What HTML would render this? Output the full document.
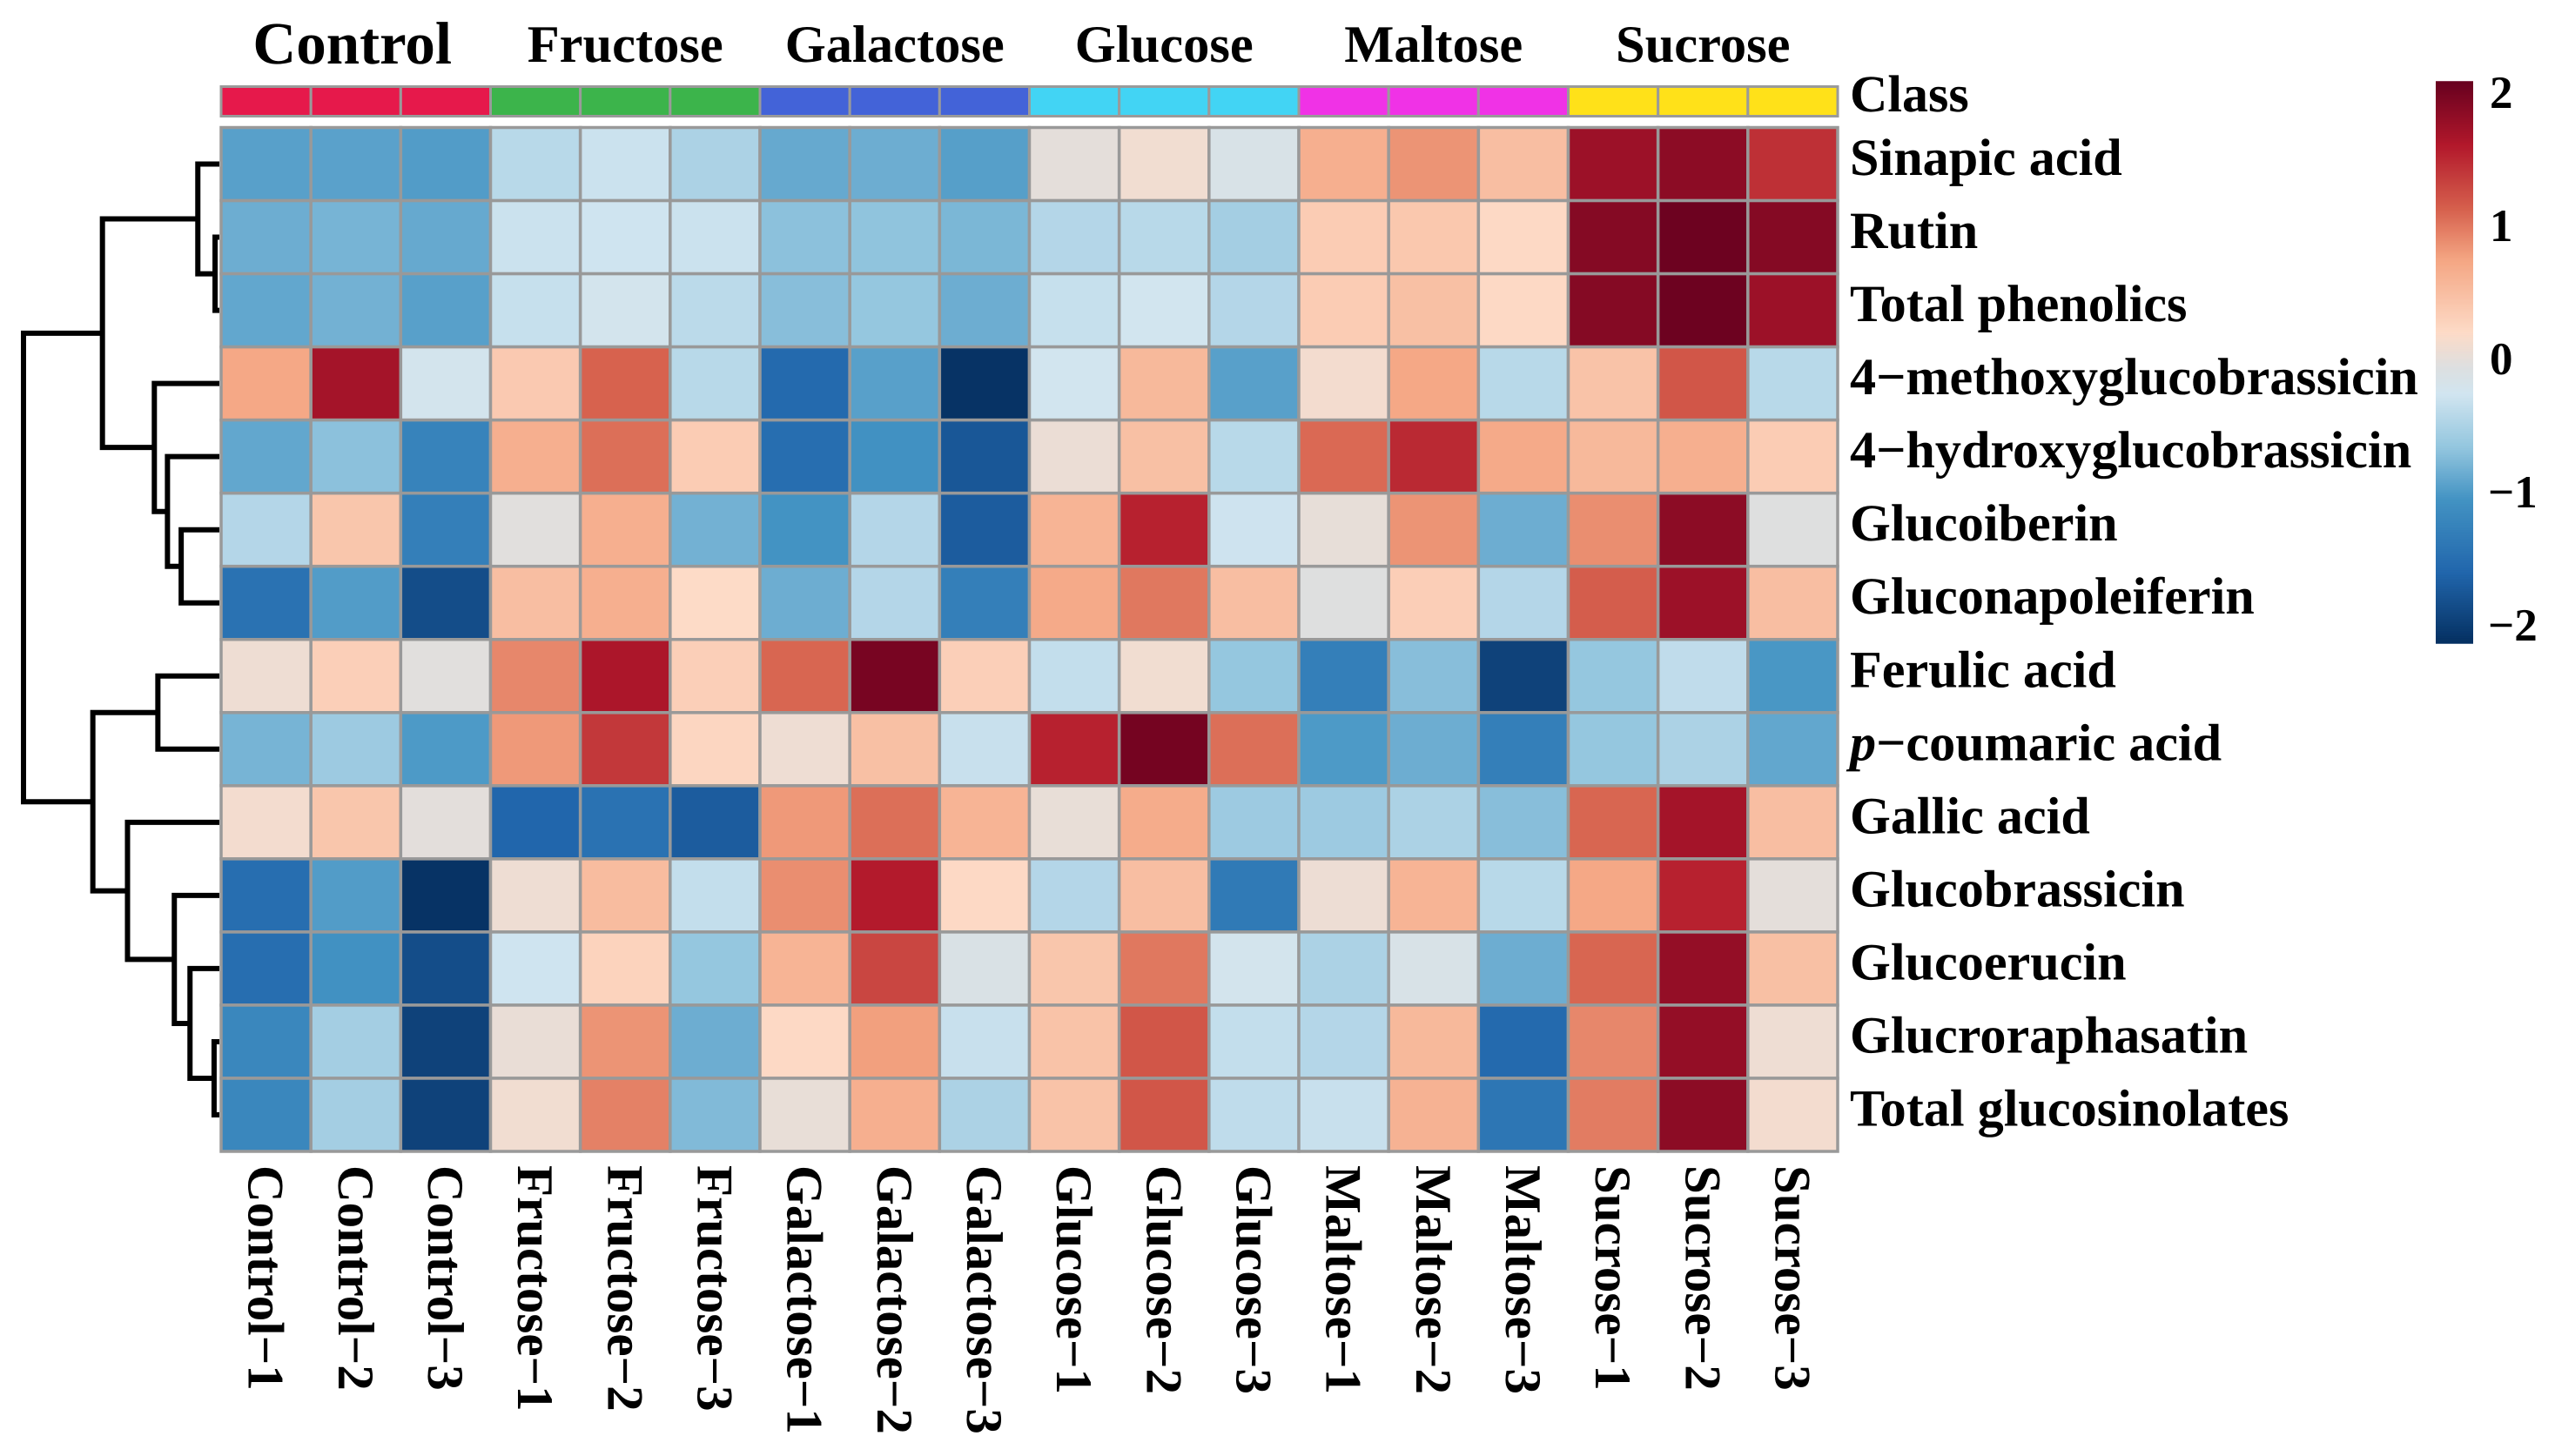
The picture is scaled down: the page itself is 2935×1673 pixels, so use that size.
<!DOCTYPE html>
<html lang="en">
<head>
<meta charset="utf-8">
<title>Heatmap of phenolics and glucosinolates by sugar treatment</title>
<style>
html,body{margin:0;padding:0;background:#fff;}
svg{display:block;}
text{font-family:"Liberation Serif",serif;font-weight:bold;fill:#000;text-rendering:geometricPrecision;}
</style>
</head>
<body>
<svg id="chart" xmlns="http://www.w3.org/2000/svg" width="2935" height="1673" viewBox="0 0 2935 1673">
<rect x="0" y="0" width="2935" height="1673" fill="#ffffff"/>
</svg>
<script>
const rowLabels = ["Sinapic acid","Rutin","Total phenolics","4\u2212methoxyglucobrassicin","4\u2212hydroxyglucobrassicin","Glucoiberin","Gluconapoleiferin","Ferulic acid","p\u2212coumaric acid","Gallic acid","Glucobrassicin","Glucoerucin","Glucroraphasatin","Total glucosinolates"];
const classNames = ["Control","Fructose","Galactose","Glucose","Maltose","Sucrose"];
const replicates = [1,2,3];
const classColors = ["#e6194b","#3cb44b","#4363d8","#42d4f4","#f032e6","#ffe119"];
const legendTicks = [2,1,0,-1,-2];
const legendRange = [-2.13,2.09];
const colorValues = [2.09,1.61,1.13,0.755,0.2,-0.06,-0.26,-0.67,-1.05,-1.6,-2.13];
const colorHex = ["#67001f","#b2182b","#d6604d","#f4a582","#fddbc7","#dddfe0","#d1e5f0","#92c5de","#4393c3","#2166ac","#053061"];
const sinapicAcid = [-0.95,-0.94,-0.98,-0.42,-0.3,-0.5,-0.88,-0.85,-0.96,0,0.1,-0.15,0.65,0.85,0.5,1.75,1.85,1.45];
const rutin = [-0.85,-0.8,-0.88,-0.3,-0.27,-0.3,-0.7,-0.68,-0.78,-0.45,-0.42,-0.55,0.35,0.4,0.22,1.9,2.05,1.9];
const totalPhenolics = [-0.9,-0.82,-0.95,-0.33,-0.22,-0.4,-0.72,-0.65,-0.85,-0.33,-0.25,-0.45,0.35,0.48,0.22,1.9,2.05,1.75];
const methoxyglucobrassicin = [0.72,1.7,-0.22,0.38,1.12,-0.42,-1.55,-0.95,-2.1,-0.25,0.55,-0.95,0.12,0.72,-0.42,0.45,1.2,-0.42];
const hydroxyglucobrassicin = [-0.9,-0.7,-1.25,0.65,1.05,0.35,-1.5,-1.08,-1.75,0.05,0.48,-0.42,1.08,1.5,0.7,0.55,0.65,0.35];
const glucoiberin = [-0.45,0.42,-1.3,-0.03,0.65,-0.82,-1.05,-0.45,-1.7,0.6,1.55,-0.28,0.02,0.85,-0.85,0.88,1.85,-0.05];
const gluconapoleiferin = [-1.45,-0.98,-1.85,0.5,0.65,0.2,-0.85,-0.45,-1.3,0.7,1,0.5,-0.05,0.33,-0.45,1.15,1.75,0.5];
const ferulicAcid = [0.08,0.32,-0.03,0.92,1.65,0.32,1.1,1.98,0.32,-0.35,0.1,-0.65,-1.3,-0.72,-1.95,-0.65,-0.37,-1.02];
const pCoumaricAcid = [-0.8,-0.6,-1,0.82,1.4,0.25,0.08,0.48,-0.32,1.55,2,1.05,-1,-0.85,-1.3,-0.65,-0.5,-0.9];
const gallicAcid = [0.12,0.42,-0.01,-1.6,-1.45,-1.7,0.82,1.05,0.6,0.03,0.68,-0.6,-0.6,-0.5,-0.72,1.1,1.7,0.5];
const glucobrassicin = [-1.5,-0.98,-2.1,0.08,0.52,-0.35,0.88,1.6,0.22,-0.45,0.5,-1.35,0.07,0.6,-0.42,0.72,1.55,0];
const glucoerucin = [-1.5,-1.08,-1.85,-0.27,0.28,-0.65,0.6,1.3,-0.12,0.42,1,-0.22,-0.5,-0.15,-0.85,1.1,1.8,0.48];
const glucroraphasatin = [-1.2,-0.55,-1.95,0.04,0.85,-0.85,0.22,0.78,-0.32,0.45,1.2,-0.35,-0.45,0.55,-1.55,0.92,1.8,0.08];
const totalGlucosinolates = [-1.2,-0.55,-1.95,0.1,0.95,-0.75,0.03,0.65,-0.5,0.45,1.2,-0.38,-0.32,0.62,-1.4,0.98,1.85,0.12];
const matrix = [sinapicAcid,rutin,totalPhenolics,methoxyglucobrassicin,hydroxyglucobrassicin,glucoiberin,gluconapoleiferin,ferulicAcid,pCoumaricAcid,gallicAcid,glucobrassicin,glucoerucin,glucroraphasatin,totalGlucosinolates];
// Row dendrogram merges: [child a, child b, merge height]. Ids below rowLabels.length are leaves; later ids are earlier merges.
const rowMerges = [[1,2,0.22],[0,14,1.1],[5,6,1.95],[4,16,2.65],[3,17,3.32],[15,18,5.97],[7,8,3.14],[12,13,0.27],[11,21,1.5],[10,22,2.3],[9,23,4.69],[20,24,6.46],[19,25,10]];

const NS = "http://www.w3.org/2000/svg";
const svg = document.getElementById("chart");
const gridLeft = 254, gridRight = 2111, gridTop = 146.5, gridBottom = 1323;
const columnCount = classNames.length * replicates.length;
const colWidth = (gridRight - gridLeft) / columnCount;
const rowHeight = (gridBottom - gridTop) / rowLabels.length;
const colX = c => gridLeft + c * colWidth;
const rowY = r => gridTop + r * rowHeight;
const heightX = h => 252 - h * 22.5;
const legendY = v => 413 - v * 153;

function make(tag, attrs, parent) {
  const el = document.createElementNS(NS, tag);
  for (const k in attrs) el.setAttribute(k, attrs[k]);
  parent.appendChild(el);
  return el;
}
function colorFor(v) {
  if (v >= colorValues[0]) return colorHex[0];
  for (let i = 1; i < colorValues.length; i++) {
    if (v >= colorValues[i]) {
      const t = (v - colorValues[i]) / (colorValues[i - 1] - colorValues[i]);
      const lo = colorHex[i], hi = colorHex[i - 1];
      const ch = p => Math.round(parseInt(lo.substr(p, 2), 16) * (1 - t) + parseInt(hi.substr(p, 2), 16) * t);
      return "rgb(" + ch(1) + "," + ch(3) + "," + ch(5) + ")";
    }
  }
  return colorHex[colorHex.length - 1];
}
const kebab = s => s.toLowerCase().replace(/[^a-z0-9]+/g, "-");

// class header labels
const headerGroup = make("g", {}, svg);


classNames.forEach((name, i) => {
  const first = i === 0;
  const t = make("text", {x: colX((i + 0.5) * replicates.length) - (first ? 4 : 0), y: first ? 73 : 71, "text-anchor": "middle", "font-size": first ? 69 : 60.5}, headerGroup);
  
  
  t.textContent = name;
});

// class annotation bar
const classGroup = make("g", {stroke: "#9a9a9a", "stroke-width": 3}, svg);


classNames.forEach((name, i) => {
  replicates.forEach((rep, j) => {
    const a = make("rect", {x: colX(i * replicates.length + j), y: 99.5, width: colWidth, height: 34, fill: classColors[i]}, classGroup);
    
    
  });
});
const classTitle = make("text", {x: 2125, y: 128, "font-size": 60}, svg);


classTitle.textContent = "Class";

// heatmap cells
const cellGroup = make("g", {stroke: "#999999", "stroke-width": 3.5}, svg);


matrix.forEach((row, r) => {
  row.forEach((v, c) => {
    const cell = make("rect", {x: colX(c), y: rowY(r), width: colWidth, height: rowHeight, fill: colorFor(v)}, cellGroup);
    
    
  });
});

// row labels
const rowGroup = make("g", {}, svg);


rowLabels.forEach((label, r) => {
  const t = make("text", {x: 2125, y: rowY(r + 0.5) + 12.5, "font-size": 60.2}, rowGroup);
  
  
  if (label.startsWith("p\u2212")) {
    const it = make("tspan", {"font-style": "italic"}, t);
    it.textContent = "p";
    t.appendChild(document.createTextNode(label.slice(1)));
  } else {
    t.textContent = label;
  }
});

// column labels
const colGroup = make("g", {}, svg);


classNames.forEach((name, i) => {
  replicates.forEach((rep, j) => {
    const x = colX(i * replicates.length + j + 0.5) - 20;
    const t = make("text", {transform: "translate(" + x + ",1339) rotate(90)", "font-size": 59}, colGroup);
    
    
    t.textContent = name + "\u2212" + rep;
  });
});

// row dendrogram
const dendroGroup = make("g", {fill: "none", stroke: "#000", "stroke-width": 6, "stroke-linejoin": "miter"}, svg);


const nodes = rowLabels.map((_, r) => ({x: heightX(0), y: rowY(r + 0.5)}));
rowMerges.forEach((m, i) => {
  const a = nodes[m[0]], b = nodes[m[1]], x = heightX(m[2]);
  const p = make("path", {d: "M" + a.x + " " + a.y + "H" + x + "V" + b.y + "H" + b.x}, dendroGroup);
  
  
  nodes.push({x: x, y: (a.y + b.y) / 2});
});

// colour legend
const legendGroup = make("g", {}, svg);


const legendTop = legendY(legendRange[1]), legendBottom = legendY(legendRange[0]);
for (let y = legendTop; y < legendBottom; y += 2) {
  const v = (413 - y - 1) / 153;
  const s = make("rect", {x: 2798, y: y, width: 43, height: 2.5, fill: colorFor(v)}, legendGroup);
  
  
}
legendTicks.forEach(v => {
  const t = make("text", {x: v < 0 ? 2858 : 2860, y: legendY(v) + 17, "font-size": 53}, legendGroup);
  
  
  t.textContent = String(v).replace("-", "\u2212");
});
</script>
</body>
</html>
